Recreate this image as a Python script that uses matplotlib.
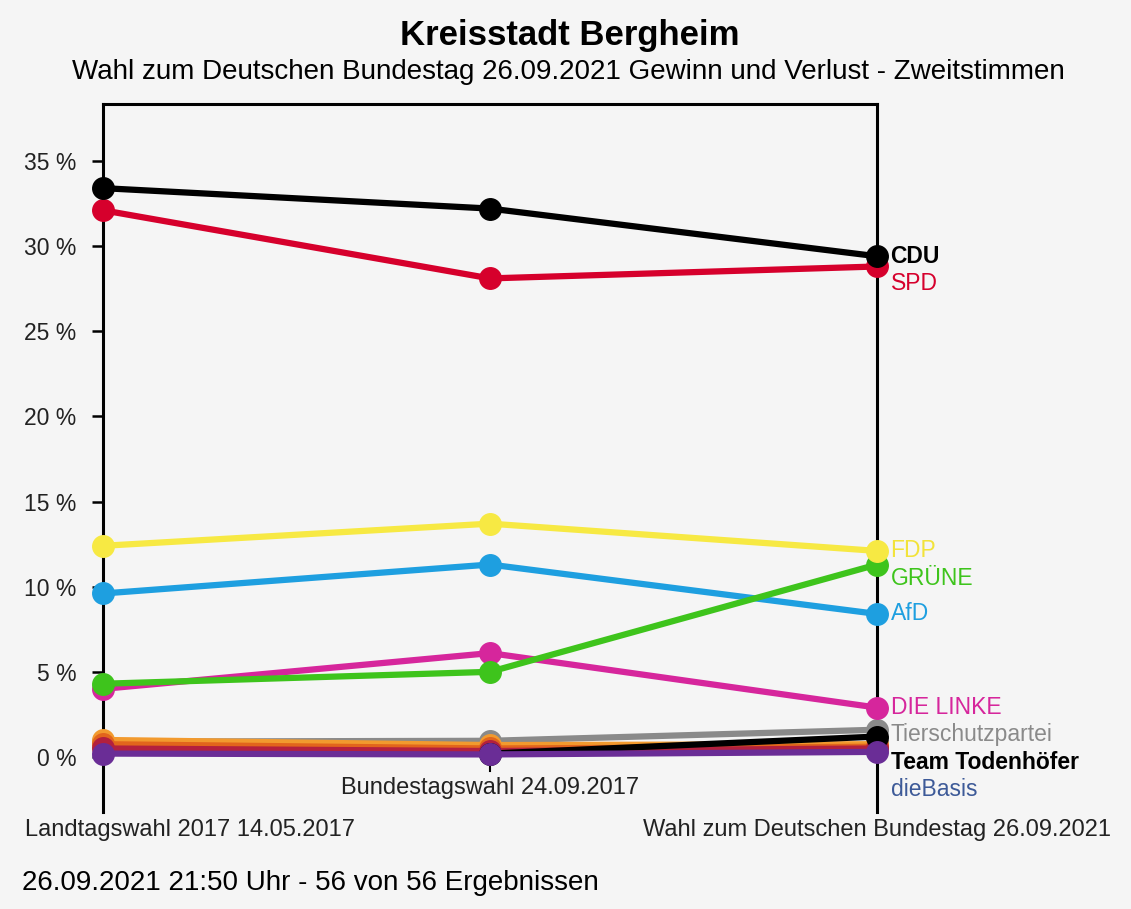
import numpy as np
import matplotlib
matplotlib.use("Agg")
import matplotlib.pyplot as plt
import matplotlib.transforms as mtransforms

plt.rcParams['font.family'] = ['Liberation Sans', 'DejaVu Sans']

elections = ["Landtagswahl 2017 14.05.2017",
             "Bundestagswahl 24.09.2017",
             "Wahl zum Deutschen Bundestag 26.09.2021"]

nan = np.nan
# small labelled parties
low_names = ["dieBasis", "Team Todenhöfer", "Tierschutzpartei"]
low_values = [[nan, nan, 0.8],
              [nan, 0.2, 1.2],
              [0.9, 0.95, 1.6]]
low_colors = ["#3d5a98", "#000000", "#8a8a8a"]

# minor parties (unlabelled)
minor_values = [[1.0, 0.7, 0.75],
                [0.75, 0.5, 0.6],
                [0.5, 0.35, 0.5],
                [0.2, 0.15, 0.3]]
minor_colors = ["#f29a2e", "#e2651c", "#b3203e", "#6a2d96"]

# large labelled parties
party_names = ["DIE LINKE", "AfD", "GRÜNE", "FDP", "SPD", "CDU"]
party_values = [[4.0, 6.1, 2.9],
                [9.6, 11.3, 8.4],
                [4.3, 5.0, 11.3],
                [12.4, 13.7, 12.1],
                [32.1, 28.1, 28.8],
                [33.4, 32.2, 29.4]]
party_colors = ["#d6269c", "#1e9fe0", "#3ec41c", "#f7e943", "#d6002c", "#000000"]

label_colors = {"dieBasis": "#3d5a98", "Team Todenhöfer": "#000000",
                "Tierschutzpartei": "#8a8a8a", "DIE LINKE": "#d6269c",
                "AfD": "#1e9fe0", "GRÜNE": "#3ec41c", "FDP": "#f2e33a",
                "SPD": "#d6002c", "CDU": "#000000"}

yticks = [0, 5, 10, 15, 20, 25, 30, 35]

W, H = 1131, 909
fig = plt.figure(figsize=(W / 100, H / 100), dpi=100)
fig.patch.set_facecolor("#f5f5f5")

left, right, top, bottom = 103, 877, 104, 812
ax = fig.add_axes([left / W, 1 - bottom / H, (right - left) / W, (bottom - top) / H])
ax.set_facecolor("#f5f5f5")
x = np.arange(len(elections))
ax.set_xlim(0, 2)
ax.set_ylim(-3.23, 38.34)

LW, MS = 4.5, 15.5


def draw(vals, c, z):
    ax.plot(x, vals, color=c, lw=LW, marker="o", ms=MS, clip_on=False, zorder=z,
            solid_capstyle="round")


# drawing order: dieBasis, Tierschutzpartei, orange/red minors, Team Todenhöfer, purple, big parties
draw(low_values[0], low_colors[0], 3.00)
draw(low_values[2], low_colors[2], 3.05)
for k in range(3):
    draw(minor_values[k], minor_colors[k], 3.1 + 0.05 * k)
draw(low_values[1], low_colors[1], 3.3)
draw(minor_values[3], minor_colors[3], 3.35)
for k, (vals, c) in enumerate(zip(party_values, party_colors)):
    draw(vals, c, 4 + 0.05 * k)

# right-hand labels with simple collision avoidance
all_names = low_names + party_names
all_end = [v[2] for v in low_values] + [v[2] for v in party_values]
order = np.argsort([-v for v in all_end])
prev = None
for i in order:
    v = all_end[i]
    ly = v if prev is None else min(v, prev - 1.6)
    prev = ly
    nm = all_names[i]
    ax.text(2.035, ly, nm, color=label_colors[nm], fontsize=16.5,
            va="center", ha="left", clip_on=False,
            fontweight="bold" if nm in ("CDU", "Team Todenhöfer") else "normal")

for s in ["top", "left", "right"]:
    ax.spines[s].set_linewidth(2.2)
    ax.spines[s].set_color("black")
ax.spines["bottom"].set_visible(False)

ax.set_yticks(yticks)
ax.set_yticklabels([f"{t} %" for t in yticks], fontsize=16.5, color="#222222")
ax.tick_params(axis="y", length=8, width=1.8, pad=11)
ax.set_xticks([])

# middle tick
ax.plot([1, 1], [0, -0.8], color="black", lw=1.5, zorder=2.8)

trans = mtransforms.blended_transform_factory(ax.transData, fig.transFigure)
ax.text(1, 1 - 788 / H, elections[1], transform=trans, ha="center", va="center",
        fontsize=17, color="#222222")
fig.text(25 / W, 1 - 830 / H, elections[0], ha="left", va="center",
         fontsize=17, color="#222222")
ax.text(2, 1 - 830 / H, elections[2], transform=trans, ha="center", va="center",
        fontsize=17, color="#222222")

fig.text(570 / W, 1 - 36 / H, "Kreisstadt Bergheim", ha="center", va="center",
         fontsize=25, fontweight="bold")
fig.text(568 / W, 1 - 72 / H,
         "Wahl zum Deutschen Bundestag 26.09.2021 Gewinn und Verlust - Zweitstimmen",
         ha="center", va="center", fontsize=20)
fig.text(22 / W, 1 - 883 / H, "26.09.2021 21:50 Uhr - 56 von 56 Ergebnissen",
         ha="left", va="center", fontsize=20)

fig.savefig("out.png", dpi=100, facecolor=fig.get_facecolor())
